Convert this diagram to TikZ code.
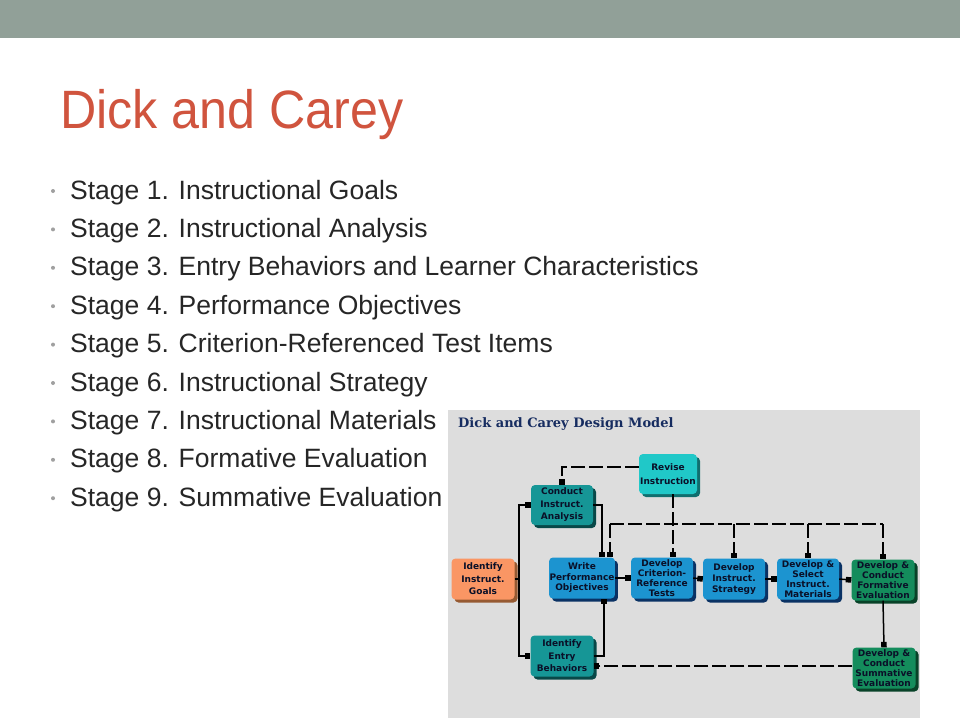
\documentclass[tikz,border=0pt]{standalone}
\usepackage{fontspec}
\setmainfont{Liberation Sans}
\newfontfamily\titlefont[FakeStretch=0.93]{Liberation Sans}
\newfontfamily\dserif{DejaVu Serif}
\newfontfamily\boxfont{DejaVu Sans}
\usetikzlibrary{arrows.meta,shadows,calc}
\definecolor{band}{RGB}{145,160,152}
\definecolor{titlered}{RGB}{208,84,62}
\definecolor{bodytext}{RGB}{38,38,38}
\definecolor{bulletgray}{RGB}{160,160,160}
\definecolor{diagbg}{RGB}{221,221,221}
\definecolor{navy}{RGB}{22,44,96}
\definecolor{boxtext}{RGB}{10,16,40}
\definecolor{cyanbox}{RGB}{32,200,200}
\definecolor{cyanshadow}{RGB}{16,110,110}
\definecolor{tealbox}{RGB}{22,150,150}
\definecolor{tealshadow}{RGB}{8,72,72}
\definecolor{bluebox}{RGB}{28,148,208}
\definecolor{blueshadow}{RGB}{10,50,100}
\definecolor{greenbox}{RGB}{20,140,92}
\definecolor{greenshadow}{RGB}{8,66,40}
\definecolor{orangebox}{RGB}{250,150,100}
\definecolor{orangeshadow}{RGB}{150,90,50}
\tikzset{
  bx/.style 2 args={fill=#1, rounded corners=4pt,
    drop shadow={shadow xshift=3pt, shadow yshift=-3pt, opacity=1, fill=#2},
    inner sep=0.5pt, align=center, text=boxtext,
    font=\boxfont\bfseries\fontsize{9}{10}\selectfont},
  lsp/.style={font=\boxfont\bfseries\fontsize{9}{#1}\selectfont},
  arr/.style={line width=1.5pt, -{Square[length=5.5pt,width=5.5pt]}},
  arrd/.style={arr, dash pattern=on 14pt off 4pt},
  ln/.style={line width=1.5pt},
  lnd/.style={line width=1.5pt, dash pattern=on 14pt off 4pt},
  stagetext/.style={anchor=base west, inner sep=0pt, text=bodytext,
    font=\fontsize{26.5}{26.5}\selectfont}
}
\begin{document}
\begin{tikzpicture}[x=1pt,y=-1pt]
\useasboundingbox (0,0) rectangle (960,720);
\fill[white] (0,0) rectangle (960,720);
\fill[band] (0,0) rectangle (960,38);
\node[anchor=base west, inner sep=0pt, text=titlered,
  font=\titlefont\fontsize{54}{54}\selectfont] (title) at (60,128) {Dick and Carey};
\foreach \t [count=\i from 0] in {
  Stage 1. Instructional Goals,
  Stage 2. Instructional Analysis,
  Stage 3. Entry Behaviors and Learner Characteristics,
  Stage 4. Performance Objectives,
  Stage 5. Criterion-Referenced Test Items,
  Stage 6. Instructional Strategy,
  Stage 7. Instructional Materials,
  Stage 8. Formative Evaluation,
  Stage 9. Summative Evaluation}{
  \node[stagetext] (s\i) at (70,{199+38.4*\i}) {\t};
  \fill[bulletgray] (53,{191+38.4*\i}) circle (2pt);
}
% diagram
\fill[diagbg] (448,410) rectangle (920,718);
\node[anchor=base west, inner sep=0pt, text=navy,
  font=\dserif\bfseries\fontsize{13}{13}\selectfont] (dtitle) at (458,427) {Dick and Carey Design Model};

\node[bx={orangebox}{orangeshadow}, lsp=12.5, minimum width=63pt, minimum height=41pt] (goals) at (483,579) {Identify\\Instruct.\\Goals};
\node[bx={tealbox}{tealshadow}, lsp=12.5, minimum width=62pt, minimum height=40pt] (conduct) at (562,505) {Conduct\\Instruct.\\Analysis};
\node[bx={cyanbox}{cyanshadow}, lsp=13.5, minimum width=58pt, minimum height=40pt] (revise) at (668,474) {Revise\\Instruction};
\node[bx={bluebox}{blueshadow}, lsp=10.5, minimum width=65pt, minimum height=41pt] (write) at (582,578) {Write\\Performance\\Objectives};
\node[bx={bluebox}{blueshadow}, minimum width=62pt, minimum height=41pt] (crit) at (662,578) {Develop\\Criterion-\\Reference\\Tests};
\node[bx={bluebox}{blueshadow}, lsp=11, minimum width=62pt, minimum height=41pt] (strat) at (734,579) {Develop\\Instruct.\\Strategy};
\node[bx={bluebox}{blueshadow}, minimum width=62pt, minimum height=41pt] (mat) at (808,579) {Develop \&\\Select\\Instruct.\\Materials};
\node[bx={greenbox}{greenshadow}, minimum width=63pt, minimum height=41pt] (form) at (883,580) {Develop \&\\Conduct\\Formative\\Evaluation};
\node[bx={greenbox}{greenshadow}, minimum width=63pt, minimum height=41pt] (summ) at (884,668) {Develop \&\\Conduct\\Summative\\Evaluation};
\node[bx={tealbox}{tealshadow}, lsp=12.5, minimum width=63pt, minimum height=41pt] (entry) at (562,656) {Identify\\Entry\\Behaviors};

% solid connectors
\coordinate (trunk) at (519,579);
\draw[ln] (goals.east) -- (trunk);
\draw[arr] (trunk) |- (conduct.west);
\draw[arr] (trunk) |- (entry.west);
\draw[arr] (conduct.east) -| ([xshift=20pt]write.north);
\draw[arr] (entry.east) -| ([xshift=22pt]write.south);
\draw[arr] (write.east) -- (crit.west);
\draw[arr] (crit.east) -- (strat.west);
\draw[arr] (strat.east) -- (mat.west);
\draw[arr] (mat.east) -- (form.west);
\draw[arr] (form.south) -- (summ.north);

% dashed connectors
\coordinate (rw) at ([yshift=7pt]revise.west);
\draw[arrd] (rw) -| (conduct.north);
\coordinate (rs) at ([xshift=5pt]revise.south);
\draw[arrd] (rs) -- (rs |- crit.north);
\coordinate (bus) at (0,524);
\coordinate (wn) at ([xshift=28pt]write.north);
\draw[lnd] (wn |- bus) -- (form.north |- bus);
\draw[arrd] (wn |- bus) -- (wn);
\draw[arrd] (strat.north |- bus) -- (strat.north);
\draw[arrd] (mat.north |- bus) -- (mat.north);
\draw[arrd] (form.north |- bus) -- (form.north);
\coordinate (e2) at ([yshift=-10pt]entry.east);
\draw[arrd] (summ.west |- e2) -- (e2);
\end{tikzpicture}
\end{document}
